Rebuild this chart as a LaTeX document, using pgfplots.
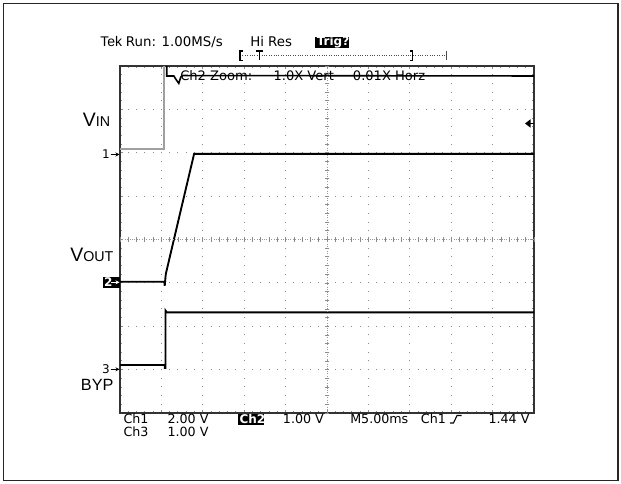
\documentclass[border=0pt]{standalone}
\usepackage{pgfplots}
\pgfplotsset{compat=1.18}
\usepackage{fontspec}
\setmainfont{Liberation Sans}
\newfontfamily\tekfont{DejaVu Sans}
\usetikzlibrary{arrows.meta}
\begin{document}
\begin{tikzpicture}
\useasboundingbox (0,0) rectangle (465.75pt,363pt);
\begin{axis}[at={(90pt,53.25pt)}, anchor=south west, scale only axis,
  width=310.5pt, height=260.25pt,
  xmin=0, xmax=10, ymin=0, ymax=8,
  xtick={0,...,10}, ytick={0,...,8},
  xticklabels={}, yticklabels={},
  minor x tick num=4, minor y tick num=4,
  grid=major,
  major x grid style={gray!90, line width=0.75pt, dash pattern=on 0.75pt off 5.756pt, dash phase=0.375pt},
  major y grid style={gray!90, line width=0.75pt, dash pattern=on 0.75pt off 5.46pt, dash phase=0.375pt},
  tick align=inside, major tick length=2.5pt, minor tick length=1.8pt,
  tick style={gray!90, line width=0.7pt},
  axis line style={black!80, line width=0.9pt},
  clip=false]
% V_IN (low part, grey)
\addplot[gray!75, line width=1.4pt, mark=none] coordinates {(0,6.08) (1.07,6.08) (1.07,8.0)};
% V_IN (high part, black)
\addplot[black, line width=1.2pt, mark=none] coordinates {(1.13,8.0) (1.13,7.77) (1.30,7.77) (1.36,7.68) (1.42,7.60) (1.47,7.75) (1.52,7.78) (10,7.77)};
% V_OUT
\addplot[black, line width=1.4pt, mark=none] coordinates {(0,3.025) (1.07,3.025) (1.08,2.93) (1.10,3.15) (1.11,3.22) (1.45,4.60) (1.79,5.975) (10,5.975)};
% BYP
\addplot[black, line width=1.4pt, mark=none] coordinates {(0,1.106) (1.085,1.106) (1.085,1.04) (1.10,1.04) (1.10,2.36) (1.13,2.32) (10,2.32)};
\end{axis}
\begin{scope}[x=0.75pt, y=-0.75pt, shift={(0pt,363pt)}]
% outer frame
\draw[black!85, line width=1.1pt] (3.5,3.5) rectangle (618,480.5);
% centre lines with fine ticks
\draw[gray!80, line width=0.5pt, dash pattern=on 0.6pt off 1.2pt] (120,239.5) -- (534,239.5);
\draw[gray!80, line width=0.5pt, dash pattern=on 0.6pt off 1.2pt] (327,66) -- (327,413);
\foreach \k in {0,...,50} {\draw[gray!90, line width=0.55pt] ({120+8.28*\k},237.3) -- ({120+8.28*\k},241.7);}
\foreach \k in {0,...,40} {\draw[gray!90, line width=0.55pt] (324.8,{66+8.675*\k}) -- (329.2,{66+8.675*\k});}
% header
\node[anchor=base west, inner sep=0, font=\fontsize{10.5pt}{12pt}\selectfont] at (100,46.5) {Tek};
\node[anchor=base west, inner sep=0, font=\tekfont\fontsize{10pt}{12pt}\selectfont] at (125.7,46.5) {Run: 1.00MS/s};
\node[anchor=base west, inner sep=0, font=\tekfont\fontsize{10pt}{12pt}\selectfont] at (250,46.5) {Hi Res};
\fill[black] (315,37) rectangle (349.3,47.8);
\node[anchor=base west, inner sep=0, text=white, font=\tekfont\bfseries\fontsize{9pt}{10pt}\selectfont] at (316.5,46) {Trig?};
% record bracket
\draw[black!70, line width=0.5pt, dash pattern=on 0.6pt off 1.2pt] (240,55.5) -- (446.7,55.5);
\draw[black, line width=0.9pt] (242.5,51) -- (240,51) -- (240,60.5) -- (242.5,60.5);
\draw[black, line width=0.8pt] (255.5,51) -- (263,51) (259.3,51) -- (259.3,60);
\draw[black, line width=0.9pt] (410.2,51) -- (412.7,51) -- (412.7,60.5) -- (410.2,60.5);
\draw[black!70, line width=0.6pt] (446.7,51) -- (446.7,60);
% zoom text on screen
\node[anchor=base west, inner sep=0, font=\tekfont\fontsize{9.8pt}{11pt}\selectfont] at (180,81) {Ch2 Zoom:};
\node[anchor=base west, inner sep=0, font=\tekfont\fontsize{9.8pt}{11pt}\selectfont] at (273.3,81) {1.0X Vert};
\node[anchor=base west, inner sep=0, font=\tekfont\fontsize{9.8pt}{11pt}\selectfont] at (352.7,81) {0.01X Horz};
% trigger level arrow at right
\fill[black] (525,123.5) -- (530.5,119.3) -- (530.5,127.7) -- cycle;
\draw[black, line width=0.9pt] (530,123.5) -- (534,123.5);
% signal names
\node[anchor=base west, inner sep=0] at (82.7,126.7) {\fontsize{14.6pt}{16pt}\selectfont V\fontsize{10.7pt}{12pt}\selectfont IN};
\node[anchor=base west, inner sep=0] at (70,261.7) {\fontsize{14.6pt}{16pt}\selectfont V\fontsize{10.7pt}{12pt}\selectfont OUT};
\node[anchor=base west, inner sep=0, font=\fontsize{12.2pt}{14pt}\selectfont] at (80.7,391) {BYP};
% channel markers
\node[anchor=base east, inner sep=0, font=\tekfont\fontsize{9pt}{9pt}\selectfont] at (110,158.8) {1};
\draw[-{Stealth[length=3pt,width=3pt]}, line width=0.5pt] (110.5,154.5) -- (119.5,154.5);
\fill[black] (102.7,277) rectangle (120,288.3);
\node[anchor=base west, inner sep=0, text=white, font=\tekfont\bfseries\fontsize{9pt}{9pt}\selectfont] at (103.8,286.5) {2};
\draw[white, -{Stealth[length=3pt,width=3pt]}, line width=0.5pt] (111,282.3) -- (119.5,282.3);
\node[anchor=base east, inner sep=0, font=\tekfont\fontsize{9pt}{9pt}\selectfont] at (110,373.8) {3};
\draw[-{Stealth[length=3pt,width=3pt]}, line width=0.5pt] (110.5,369.3) -- (119.5,369.3);
% bottom readout
\begin{scope}[every node/.style={anchor=base west, inner sep=0, font=\tekfont\fontsize{9.5pt}{10pt}\selectfont}]
\node at (123.3,423.5) {Ch1};
\node at (167.3,423.5) {2.00 V};
\node at (282.7,423.5) {1.00 V};
\node at (350,423.5) {M5.00ms};
\node at (420.7,423.5) {Ch1};
\node at (488.3,423.5) {1.44 V};
\node at (123.3,436.7) {Ch3};
\node at (167.3,436.7) {1.00 V};
\end{scope}
\fill[black] (237.7,414) rectangle (264,424.8);
\node[anchor=base west, inner sep=0, text=white, font=\tekfont\bfseries\fontsize{9pt}{10pt}\selectfont] at (239.3,423.3) {Ch2};
\draw[black, line width=0.8pt] (450,423) -- (453.5,423) -- (457,415.5) -- (461.5,415.5);
\end{scope}
\end{tikzpicture}
\end{document}
